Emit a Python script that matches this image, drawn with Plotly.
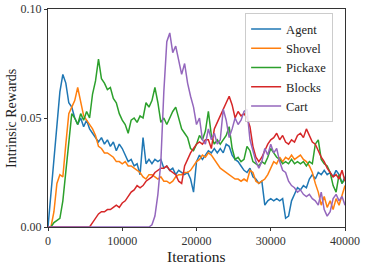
import plotly.graph_objects as go

iterations = list(range(0, 40001, 400))

agent = [0.000, 0.015, 0.030, 0.045, 0.062, 0.070, 0.066, 0.057, 0.055, 0.050,
         0.047, 0.050, 0.046, 0.049, 0.045, 0.043, 0.041, 0.039, 0.041, 0.038,
         0.040, 0.037, 0.039, 0.035, 0.038, 0.036, 0.033, 0.030, 0.031, 0.028,
         0.029, 0.024, 0.041, 0.029, 0.031, 0.029, 0.031, 0.030, 0.031, 0.027,
         0.028, 0.026, 0.027, 0.024, 0.026, 0.025, 0.024, 0.025, 0.022, 0.016,
         0.030, 0.033, 0.031, 0.033, 0.035, 0.034, 0.036, 0.034, 0.036, 0.034,
         0.038, 0.037, 0.033, 0.031, 0.030, 0.028, 0.026, 0.025, 0.027, 0.023,
         0.022, 0.020, 0.021, 0.010, 0.012, 0.013, 0.012, 0.013, 0.012, 0.013,
         0.004, 0.005, 0.012, 0.015, 0.018, 0.017, 0.019, 0.018, 0.022, 0.024,
         0.022, 0.025, 0.024, 0.026, 0.024, 0.025, 0.023, 0.026, 0.024, 0.020,
         0.023]

shovel = [0.000, 0.000, 0.007, 0.020, 0.024, 0.023, 0.038, 0.052, 0.055, 0.058,
          0.064, 0.058, 0.051, 0.049, 0.047, 0.045, 0.042, 0.037, 0.036, 0.034,
          0.034, 0.033, 0.032, 0.030, 0.030, 0.029, 0.030, 0.028, 0.028, 0.027,
          0.026, 0.025, 0.023, 0.022, 0.024, 0.024, 0.023, 0.022, 0.023, 0.021,
          0.021, 0.020, 0.021, 0.023, 0.024, 0.024, 0.025, 0.025, 0.026, 0.028,
          0.030, 0.031, 0.033, 0.032, 0.034, 0.033, 0.031, 0.029, 0.027, 0.026,
          0.025, 0.024, 0.023, 0.022, 0.022, 0.021, 0.022, 0.021, 0.026, 0.025,
          0.021, 0.020, 0.021, 0.022, 0.024, 0.027, 0.030, 0.029, 0.032, 0.030,
          0.032, 0.031, 0.033, 0.031, 0.032, 0.033, 0.031, 0.030, 0.028, 0.025,
          0.020, 0.016, 0.010, 0.014, 0.009, 0.012, 0.008, 0.013, 0.010, 0.015,
          0.019]

pickaxe = [0.000, 0.000, 0.002, 0.003, 0.004, 0.012, 0.025, 0.040, 0.052, 0.050,
           0.047, 0.052, 0.049, 0.053, 0.050, 0.061, 0.067, 0.077, 0.068, 0.066,
           0.063, 0.064, 0.059, 0.057, 0.052, 0.049, 0.047, 0.043, 0.049, 0.050,
           0.048, 0.051, 0.050, 0.057, 0.055, 0.058, 0.064, 0.057, 0.048, 0.050,
           0.047, 0.050, 0.053, 0.055, 0.050, 0.045, 0.043, 0.041, 0.036, 0.035,
           0.038, 0.042, 0.040, 0.044, 0.053, 0.042, 0.038, 0.040, 0.038, 0.040,
           0.042, 0.046, 0.036, 0.031, 0.032, 0.030, 0.031, 0.037, 0.035, 0.030,
           0.029, 0.028, 0.030, 0.029, 0.032, 0.036, 0.034, 0.032, 0.031, 0.029,
           0.030, 0.029, 0.031, 0.029, 0.030, 0.029, 0.030, 0.028, 0.030, 0.029,
           0.038, 0.040, 0.031, 0.029, 0.028, 0.025, 0.019, 0.016, 0.024, 0.020,
           0.022]

blocks = [0.000, 0.000, 0.000, 0.000, 0.000, 0.000, 0.000, 0.000, 0.000, 0.000,
          0.000, 0.000, 0.000, 0.000, 0.000, 0.002, 0.004, 0.006, 0.007, 0.007,
          0.008, 0.008, 0.009, 0.010, 0.009, 0.011, 0.012, 0.014, 0.016, 0.017,
          0.019, 0.018, 0.019, 0.021, 0.022, 0.023, 0.025, 0.026, 0.027, 0.027,
          0.028, 0.026, 0.025, 0.024, 0.021, 0.020, 0.028, 0.031, 0.034, 0.036,
          0.038, 0.039, 0.038, 0.040, 0.040, 0.036, 0.045, 0.048, 0.051, 0.054,
          0.057, 0.060, 0.056, 0.050, 0.053, 0.051, 0.052, 0.050, 0.046, 0.037,
          0.032, 0.030, 0.032, 0.035, 0.038, 0.040, 0.041, 0.043, 0.040, 0.042,
          0.039, 0.038, 0.040, 0.039, 0.042, 0.043, 0.041, 0.045, 0.042, 0.039,
          0.038, 0.035, 0.032, 0.030, 0.027, 0.025, 0.023, 0.024, 0.022, 0.026,
          0.021]

cart = [0.000, 0.000, 0.000, 0.000, 0.000, 0.000, 0.000, 0.000, 0.000, 0.000,
        0.000, 0.000, 0.000, 0.000, 0.000, 0.000, 0.000, 0.000, 0.000, 0.000,
        0.000, 0.000, 0.000, 0.000, 0.000, 0.000, 0.000, 0.000, 0.000, 0.000,
        0.000, 0.000, 0.000, 0.000, 0.000, 0.001, 0.005, 0.015, 0.030, 0.062,
        0.085, 0.089, 0.080, 0.083, 0.076, 0.070, 0.075, 0.066, 0.060, 0.055,
        0.047, 0.050, 0.040, 0.038, 0.045, 0.040, 0.043, 0.038, 0.040, 0.054,
        0.049, 0.041, 0.045, 0.050, 0.047, 0.049, 0.053, 0.054, 0.040, 0.035,
        0.030, 0.027, 0.030, 0.036, 0.033, 0.038, 0.034, 0.036, 0.030, 0.026,
        0.025, 0.021, 0.019, 0.018, 0.016, 0.017, 0.015, 0.014, 0.015, 0.013,
        0.012, 0.010, 0.016, 0.008, 0.005, 0.007, 0.013, 0.015, 0.012, 0.014,
        0.010]

series_names = ["Agent", "Shovel", "Pickaxe", "Blocks", "Cart"]
series_values = [agent, shovel, pickaxe, blocks, cart]
colors = ["#1f77b4", "#ff7f0e", "#2ca02c", "#d62728", "#9467bd"]

x_ticks = [0, 10000, 20000, 30000, 40000]
y_ticks = [0.00, 0.05, 0.10]

FONT = "Liberation Serif"

fig = go.Figure()
for name, vals, col in zip(series_names, series_values, colors):
    fig.add_trace(go.Scatter(x=iterations, y=vals, mode="lines", name=name,
                             line=dict(color=col, width=1.5)))

axis_common = dict(showline=True, linecolor="#333", linewidth=1, mirror=True,
                   ticks="outside", ticklen=3, tickcolor="#333", showgrid=False,
                   zeroline=False, automargin=False,
                   tickfont=dict(family=FONT, size=12, color="#333"))

fig.update_layout(
    width=365, height=265,
    margin=dict(l=48, r=20, t=9, b=38),
    plot_bgcolor="white", paper_bgcolor="white",
    font=dict(family=FONT, color="#222"),
    xaxis=dict(range=[0, 40000], tickvals=x_ticks, ticktext=[str(v) for v in x_ticks],
               **axis_common),
    yaxis=dict(range=[0, 0.10], tickvals=y_ticks, ticktext=["%.2f" % v for v in y_ticks],
               **axis_common),
    legend=dict(x=0.96, y=0.98, xanchor="right", yanchor="top",
                bgcolor="rgba(255,255,255,0.85)", bordercolor="#ccc", borderwidth=1,
                font=dict(family=FONT, size=12.5, color="#222"),
                itemwidth=30, tracegroupgap=0),
    showlegend=True,
    annotations=[
        dict(text="Iterations", xref="paper", yref="paper", x=0.5, y=-0.135,
             xanchor="center", yanchor="middle", showarrow=False,
             font=dict(family=FONT, size=15.5, color="#222")),
        dict(text="Intrinsic Rewards", xref="paper", yref="paper", x=-0.125, y=0.5,
             xanchor="center", yanchor="middle", showarrow=False, textangle=-90,
             font=dict(family=FONT, size=14, color="#222")),
    ],
)

fig.write_html("out.html", config={"displayModeBar": False},
               post_script="document.body.style.margin='0px';")
